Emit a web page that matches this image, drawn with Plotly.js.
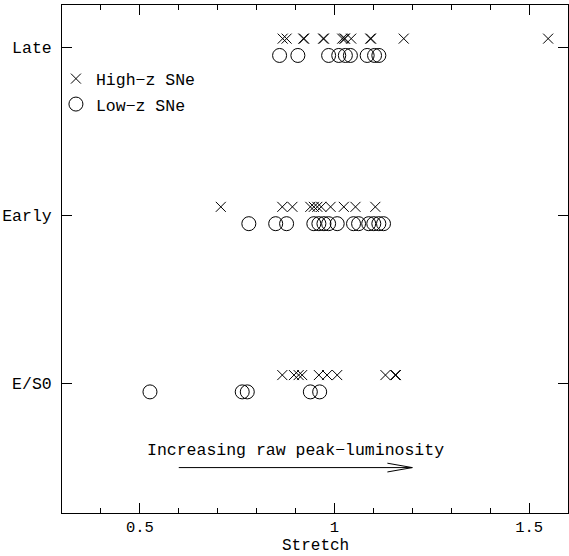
<!DOCTYPE html>
<html>
<head>
<meta charset="utf-8">
<script src="https://cdn.plot.ly/plotly-3.0.1.min.js"></script>
<style>html,body{margin:0;padding:0;background:#fff;}#chart{width:569px;height:556px;}</style>
</head>
<body>
<div id="chart"></div>
<script>
// Categories (bottom to top)
const categories = ["E/S0", "Early", "Late"];
// Stretch values per host type
const es0High   = [0.866, 0.896, 0.908, 0.917, 0.960, 0.981, 1.007, 1.131, 1.156, 1.158];
const es0Low    = [0.526, 0.763, 0.776, 0.938, 0.962];
const earlyHigh = [0.708, 0.866, 0.892, 0.938, 0.947, 0.956, 0.966, 0.990, 1.024, 1.054, 1.105];
const earlyLow  = [0.780, 0.849, 0.877, 0.947, 0.960, 0.973, 0.985, 1.007, 1.049, 1.062, 1.088, 1.101, 1.114, 1.126];
const lateHigh  = [0.867, 0.877, 0.920, 0.922, 0.971, 0.973, 1.020, 1.025, 1.027, 1.043, 1.092, 1.094, 1.178, 1.549];
const lateLow   = [0.859, 0.906, 0.985, 1.011, 1.028, 1.041, 1.084, 1.103, 1.114];
const seriesNames = ["High\u2212z SNe", "Low\u2212z SNe"];
const xTickVals = [0.5, 1, 1.5];
const xTickText = ["0.5", "1", "1.5"];
const xTitle = "Stretch";
const arrowLabel = "Increasing raw peak\u2212luminosity";
const arrowX = [0.6, 1.2];

const highRows = [es0High, earlyHigh, lateHigh];
const lowRows = [es0Low, earlyLow, lateLow];
const off = 0.05;

function build(rows, dy) {
  const x = [], y = [];
  rows.forEach((r, i) => r.forEach(v => { x.push(v); y.push(i + dy); }));
  return {x, y};
}
const hi = build(highRows, off);
const lo = build(lowRows, -off);

const FONT = "Liberation Mono";
const FS = 16.5;
const traces = [
  {x: hi.x, y: hi.y, mode: "markers", type: "scatter", name: seriesNames[0],
   legendgroup: "a",
   marker: {symbol: "x-thin-open", size: 10, color: "#000", line: {color: "#000", width: 1}}},
  {x: lo.x, y: lo.y, mode: "markers", type: "scatter", name: seriesNames[1],
   legendgroup: "b",
   marker: {symbol: "circle-open", size: 14, color: "#000", line: {color: "#000", width: 1}}}
];

const ay = -0.5;
const layout = {
  width: 569, height: 556,
  margin: {l: 62, r: 1, t: 5, b: 43},
  paper_bgcolor: "#fff", plot_bgcolor: "#fff",
  font: {family: FONT, size: FS, color: "#000"},
  showlegend: true,
  legend: {x: -0.012, y: 0.889, xanchor: "left", yanchor: "top", bgcolor: "rgba(0,0,0,0)",
           font: {family: FONT, size: FS, color: "#000"}, traceorder: "grouped", tracegroupgap: 1,
           itemwidth: 30},
  xaxis: {range: [0.3, 1.6], tickvals: xTickVals, ticktext: xTickText,
          ticks: "inside", ticklen: 10, tickwidth: 1, tickcolor: "#000",
          showline: true, linecolor: "#000", linewidth: 1, mirror: "ticks",
          showgrid: false, zeroline: false, ticklabelstandoff: -1, automargin: false,
          minor: {dtick: 0.1, tick0: 0, ticks: "inside", ticklen: 5, tickwidth: 1, tickcolor: "#000", showgrid: false},
          tickfont: {family: FONT, size: 15.5}},
  yaxis: {range: [-0.77, 2.25], tickvals: [0, 1, 2], ticktext: categories,
          ticks: "inside", ticklen: 10, tickwidth: 1, tickcolor: "#000",
          showline: true, linecolor: "#000", linewidth: 1, mirror: "ticks",
          showgrid: false, zeroline: false, ticklabelstandoff: 6, automargin: false,
          tickfont: {family: FONT, size: FS}},
  shapes: [
    {type: "line", xref: "x", yref: "y", x0: arrowX[0], x1: arrowX[1], y0: ay, y1: ay,
     line: {color: "#000", width: 1}},
    {type: "path", xref: "x", yref: "y",
     path: `M ${arrowX[1]-0.064} ${ay+0.026} L ${arrowX[1]} ${ay} L ${arrowX[1]-0.064} ${ay-0.026}`,
     line: {color: "#000", width: 1}}
  ],
  annotations: [
    {x: (arrowX[0]+arrowX[1])/2, y: -0.4, xref: "x", yref: "y", text: arrowLabel,
     showarrow: false, font: {family: FONT, size: FS, color: "#000"}},
    {x: 0.5, y: 0, xref: "paper", yref: "paper", xanchor: "center", yanchor: "bottom",
     yshift: -43, borderpad: 0, text: xTitle, showarrow: false,
     font: {family: FONT, size: 16, color: "#000"}}
  ]
};

Plotly.newPlot("chart", traces, layout, {displayModeBar: false, staticPlot: true});
</script>
</body>
</html>
